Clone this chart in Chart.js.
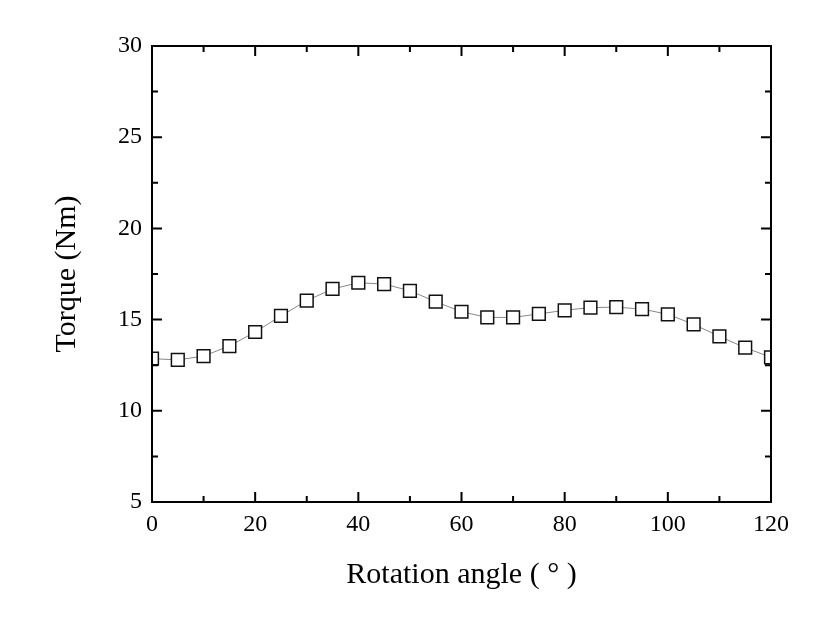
<!DOCTYPE html>
<html>
<head>
<meta charset="utf-8">
<script src="https://cdn.jsdelivr.net/npm/chart.js@4.4.0/dist/chart.umd.min.js"></script>
<style>
  html, body { margin: 0; padding: 0; background: #fff; }
</style>
</head>
<body>
<canvas id="chart" width="833" height="618"></canvas>
<script>
// data
const angles = [0, 5, 10, 15, 20, 25, 30, 35, 40, 45, 50, 55, 60,
                65, 70, 75, 80, 85, 90, 95, 100, 105, 110, 115, 120];
const torque = [12.86, 12.79, 13.0, 13.55, 14.32, 15.2, 16.04, 16.68, 17.02, 16.95, 16.58, 15.98, 15.43,
                15.12, 15.12, 15.31, 15.51, 15.66, 15.68, 15.58, 15.29, 14.74, 14.08, 13.46, 12.93];
const xMajor = [0, 20, 40, 60, 80, 100, 120];
const xMinor = [10, 30, 50, 70, 90, 110];
const yMajor = [5, 10, 15, 20, 25, 30];
const yMinor = [7.5, 12.5, 17.5, 22.5, 27.5];

// box with inward ticks on all four sides
const framePlugin = {
  id: 'frame',
  afterDatasetsDraw(chart) {
    const { ctx, chartArea: a, scales: { x, y } } = chart;
    ctx.save();
    ctx.strokeStyle = '#000';
    ctx.lineWidth = 2;
    ctx.strokeRect(a.left, a.top, a.right - a.left, a.bottom - a.top);
    ctx.beginPath();
    const xt = (vals, len) => vals.forEach(v => {
      const px = x.getPixelForValue(v);
      ctx.moveTo(px, a.bottom); ctx.lineTo(px, a.bottom - len);
      ctx.moveTo(px, a.top); ctx.lineTo(px, a.top + len);
    });
    const yt = (vals, len) => vals.forEach(v => {
      const py = y.getPixelForValue(v);
      ctx.moveTo(a.left, py); ctx.lineTo(a.left + len, py);
      ctx.moveTo(a.right, py); ctx.lineTo(a.right - len, py);
    });
    xt(xMajor, 10); xt(xMinor, 6);
    yt(yMajor, 10); yt(yMinor, 6);
    ctx.stroke();
    ctx.restore();
  }
};

const tickFont = { family: 'Liberation Serif', size: 24 };
const titleFont = { family: 'Liberation Serif', size: 30 };

new Chart(document.getElementById('chart'), {
  type: 'scatter',
  data: {
    datasets: [{
      data: angles.map((a, i) => ({ x: a, y: torque[i] })),
      showLine: true,
      borderColor: '#888',
      borderWidth: 1,
      pointStyle: 'rect',
      pointRadius: 9,
      pointBorderWidth: 1.5,
      pointBorderColor: '#111',
      pointBackgroundColor: '#fff'
    }]
  },
  options: {
    responsive: false,
    animation: false,
    layout: { padding: { top: 46, right: 62, left: 0, bottom: 0 } },
    plugins: { legend: { display: false }, tooltip: { enabled: false } },
    scales: {
      x: {
        type: 'linear', min: 0, max: 120,
        afterBuildTicks: s => { s.ticks = xMajor.map(v => ({ value: v })); },
        afterFit: s => { s.height = 116; },
        grid: { display: false, drawTicks: false },
        border: { display: false },
        ticks: { color: '#000', font: tickFont, padding: 8, maxRotation: 0 },
        title: { display: true, text: 'Rotation angle ( \u00b0 )', color: '#000', font: titleFont,
                 padding: { top: 0, bottom: 25 } }
      },
      y: {
        type: 'linear', min: 5, max: 30,
        afterBuildTicks: s => { s.ticks = yMajor.map(v => ({ value: v })); },
        afterFit: s => { s.width = 152; },
        grid: { display: false, drawTicks: false },
        border: { display: false },
        ticks: { color: '#000', font: tickFont, padding: 10 },
        title: { display: true, text: 'Torque (Nm)', color: '#000', font: titleFont,
                 padding: { top: 49, bottom: 0 } }
      }
    }
  },
  plugins: [framePlugin]
});
</script>
</body>
</html>
